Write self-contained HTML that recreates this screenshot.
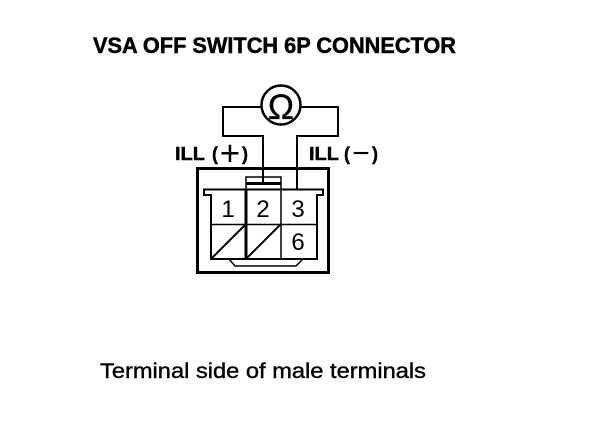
<!DOCTYPE html>
<html>
<head>
<meta charset="utf-8">
<style>
html,body{margin:0;padding:0;background:#fff;}
svg{display:block;}
text{font-family:"Liberation Sans",sans-serif;fill:#000;}
</style>
</head>
<body>
<svg width="608" height="438" viewBox="0 0 608 438" xmlns="http://www.w3.org/2000/svg">
<rect width="608" height="438" fill="#fff"/>
<text x="93" y="53" font-size="22" font-weight="bold" stroke="#000" stroke-width="0.5" textLength="363" lengthAdjust="spacingAndGlyphs">VSA OFF SWITCH 6P CONNECTOR</text>
<g fill="none" stroke="#000">
<circle cx="281" cy="105" r="19.5" stroke-width="2.500"/>
<path d="M261 107H223V136H263V184" stroke-width="2"/>
<path d="M301 107H338V136H297V189" stroke-width="2"/>
<rect x="197.500" y="168.500" width="131" height="104" stroke-width="3"/>
<path d="M211 195H204V189.500H323V195H317V259H211Z" stroke-width="2"/>
<path d="M246 190V259" stroke-width="3"/>
<path d="M281 190V259" stroke-width="1.500"/>
<path d="M211 224.500H317" stroke-width="1.500"/>
<path d="M211 259L246 224M246 259L281 224" stroke-width="2"/>
<path d="M246 190V177H281V190" stroke-width="1.500"/>
<path d="M246 183.500H281" stroke-width="3"/>
<path d="M229 259L235 266H296L303 259" stroke-width="1.500"/>
</g>
<text x="281" y="119" font-size="35" text-anchor="middle" stroke="#000" stroke-width="0.300">Ω</text>
<g font-size="18" font-weight="bold" stroke="#000" stroke-width="0.400">
<text x="175" y="160" textLength="30" lengthAdjust="spacingAndGlyphs">ILL</text>
<text x="212" y="160" textLength="6" lengthAdjust="spacingAndGlyphs">(</text>
<text x="242" y="160" textLength="6" lengthAdjust="spacingAndGlyphs">)</text>
<text x="309" y="160" textLength="30" lengthAdjust="spacingAndGlyphs">ILL</text>
<text x="344" y="160" textLength="6" lengthAdjust="spacingAndGlyphs">(</text>
<text x="372" y="160" textLength="6" lengthAdjust="spacingAndGlyphs">)</text>
</g>
<text x="230" y="165" font-size="35" text-anchor="middle">+</text>
<text x="361" y="163" font-size="30" text-anchor="middle">−</text>
<g font-size="24" text-anchor="middle">
<text x="228" y="217">1</text>
<text x="263" y="217">2</text>
<text x="298" y="217">3</text>
<text x="298" y="250">6</text>
</g>
<text x="100" y="378" font-size="21.500" stroke="#000" stroke-width="0.400" textLength="326" lengthAdjust="spacingAndGlyphs">Terminal side of male terminals</text>
</svg>
</body>
</html>
